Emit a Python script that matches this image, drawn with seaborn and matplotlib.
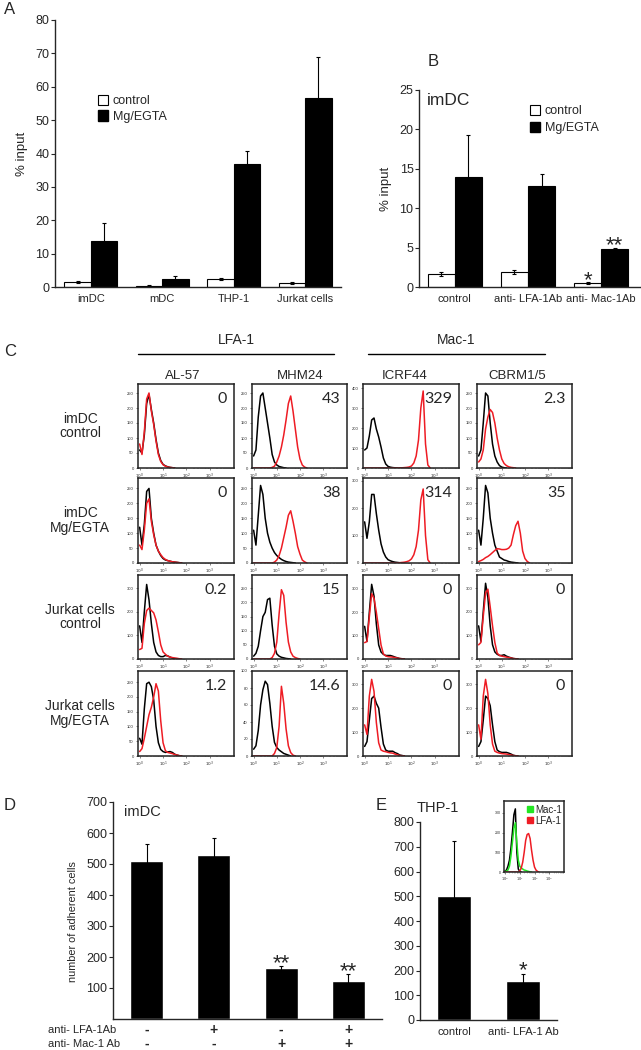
import numpy as np
import pandas as pd
import seaborn as sns
import matplotlib.pyplot as plt
from matplotlib.patches import Patch
from matplotlib.lines import Line2D
from matplotlib.ticker import FixedLocator, LogLocator, NullFormatter
import matplotlib.transforms as mtransforms

sns.set_style("ticks")
plt.rcParams["font.family"] = ["Liberation Sans", "DejaVu Sans"]

# ---------------- data ----------------
# A: adhesion, % input
a_cells = ["imDC", "mDC", "THP-1", "Jurkat cells"]
a_control = [1.5, 0.4, 2.4, 1.2]
a_control_err = [0.25, 0.1, 0.4, 0.2]
a_mg = [13.8, 2.3, 37.0, 56.5]
a_mg_err = [5.4, 0.9, 3.8, 12.4]

# B: imDC with blocking antibodies
b_treat = ["control", "anti- LFA-1Ab", "anti- Mac-1Ab"]
b_control = [1.6, 1.9, 0.5]
b_control_err = [0.25, 0.2, 0.1]
b_mg = [13.9, 12.8, 4.8]
b_mg_err = [5.4, 1.5, 0.1]

# C: flow cytometry histograms (log10 fluorescence grid, cell counts)
grid = [0.0, 0.1, 0.2, 0.3, 0.4, 0.5, 0.6, 0.7, 0.8, 0.9, 1.0, 1.1, 1.2, 1.3, 1.4,
        1.5, 1.6, 1.7, 1.8, 1.9, 2.0, 2.1, 2.2, 2.3, 2.4, 2.5, 2.6, 2.7, 2.8]
antibodies = ["AL-57", "MHM24", "ICRF44", "CBRM1/5"]
conditions = ["imDC\ncontrol", "imDC\nMg/EGTA", "Jurkat cells\ncontrol", "Jurkat cells\nMg/EGTA"]
mfi_imdc_ctl = ["0", "43", "329", "2.3"]
mfi_imdc_mg = ["0", "38", "314", "35"]
mfi_jurkat_ctl = ["0.2", "15", "0", "0"]
mfi_jurkat_mg = ["1.2", "14.6", "0", "0"]

al57_imdc_ctl_k = [60, 50, 110, 215, 245, 195, 150, 95, 50, 25, 12, 7, 4, 2, 1, 0]
al57_imdc_ctl_r = [80, 45, 120, 230, 250, 190, 145, 90, 45, 22, 11, 6, 3, 2, 1, 0]
mhm_imdc_ctl_k = [40, 60, 170, 240, 250, 200, 150, 100, 45, 20, 10, 5, 3, 1, 0]
mhm_imdc_ctl_r = [0, 0, 0, 0, 0, 0, 0, 0, 2, 6, 20, 40, 70, 110, 160, 215, 240, 190,
                  130, 70, 30, 10, 3, 0]
icrf_imdc_ctl_k = [90, 100, 160, 240, 250, 195, 155, 105, 50, 20, 8, 4, 2, 1, 0]
icrf_imdc_ctl_r = [0, 0, 0, 0, 0, 0, 0, 0, 0, 0, 0, 0, 0, 0, 0, 1, 1, 2, 3, 5, 10, 25,
                   60, 140, 300, 385, 120, 15, 0]
cbrm_imdc_ctl_k = [40, 60, 150, 250, 240, 150, 80, 40, 20, 8, 3, 1, 0]
cbrm_imdc_ctl_r = [20, 30, 60, 130, 170, 195, 185, 150, 100, 60, 30, 15, 8, 4, 2, 1, 0]

al57_imdc_mg_k = [120, 60, 130, 240, 250, 150, 100, 60, 40, 25, 15, 10, 8, 6, 4, 3, 2, 1, 0]
al57_imdc_mg_r = [60, 45, 110, 200, 215, 140, 95, 60, 40, 28, 18, 12, 8, 6, 4, 3, 2, 1, 0]
mhm_imdc_mg_k = [110, 60, 160, 260, 230, 150, 100, 70, 50, 35, 25, 18, 12, 8, 5, 3, 2, 1, 0]
mhm_imdc_mg_r = [0, 0, 0, 0, 0, 0, 0, 0, 0, 3, 10, 25, 50, 85, 120, 160, 175, 140, 100,
                 55, 30, 10, 4, 0]
icrf_imdc_mg_k = [150, 90, 150, 250, 250, 180, 120, 70, 40, 22, 12, 8, 5, 3, 2, 1, 1, 0]
icrf_imdc_mg_r = [0, 0, 0, 0, 0, 0, 0, 0, 0, 0, 0, 0, 0, 0, 0, 1, 2, 3, 5, 8, 15, 30,
                  60, 120, 230, 270, 100, 12, 0]
cbrm_imdc_mg_k = [110, 60, 150, 260, 235, 150, 100, 60, 40, 20, 15, 10, 8, 5, 3, 2, 1, 0]
cbrm_imdc_mg_r = [5, 8, 12, 18, 22, 28, 35, 42, 48, 47, 45, 45, 46, 50, 60, 95, 125, 140,
                  100, 40, 15, 5, 0]

al57_jurkat_ctl_k = [140, 70, 200, 315, 250, 150, 70, 30, 15, 10, 10, 15, 13, 8, 4, 2, 1, 0]
al57_jurkat_ctl_r = [40, 45, 150, 205, 215, 205, 195, 165, 115, 60, 30, 20, 12, 8, 6, 4, 3, 1, 0]
mhm_jurkat_ctl_k = [10, 20, 45, 100, 150, 165, 210, 215, 120, 45, 18, 10, 6, 4, 2, 1, 0]
mhm_jurkat_ctl_r = [0, 0, 0, 0, 0, 0, 0, 0, 5, 20, 60, 160, 245, 225, 130, 60, 25, 10, 5, 2, 0]
icrf_jurkat_ctl_k = [140, 75, 200, 320, 270, 150, 60, 30, 20, 15, 15, 15, 12, 8, 5, 2, 1, 0]
icrf_jurkat_ctl_r = [70, 75, 180, 280, 260, 200, 130, 60, 22, 13, 10, 9, 8, 6, 4, 2, 1, 0]
cbrm_jurkat_ctl_k = [140, 75, 200, 320, 260, 140, 60, 30, 20, 15, 15, 18, 12, 8, 5, 2, 1, 0]
cbrm_jurkat_ctl_r = [60, 70, 180, 280, 295, 220, 140, 70, 25, 15, 12, 10, 8, 6, 4, 2, 1, 0]

al57_jurkat_mg_k = [60, 40, 160, 245, 250, 235, 190, 100, 45, 22, 15, 12, 14, 15, 12, 6, 3, 1, 0]
al57_jurkat_mg_r = [15, 25, 60, 100, 140, 165, 200, 245, 220, 120, 45, 18, 12, 10, 8, 5, 3, 1, 0]
mhm_jurkat_mg_k = [8, 12, 30, 60, 78, 88, 84, 62, 35, 16, 10, 7, 5, 3, 2, 1, 0]
mhm_jurkat_mg_r = [0, 0, 0, 0, 0, 0, 0, 0, 0, 3, 10, 35, 82, 62, 32, 12, 4, 1, 0]
icrf_jurkat_mg_k = [40, 60, 150, 240, 250, 220, 200, 120, 50, 25, 20, 20, 20, 14, 10, 4, 2, 0]
icrf_jurkat_mg_r = [130, 90, 250, 320, 270, 140, 55, 25, 20, 18, 15, 13, 12, 8, 5, 2, 1, 0]
cbrm_jurkat_mg_k = [40, 60, 150, 250, 240, 210, 130, 60, 25, 18, 15, 15, 15, 12, 8, 3, 1, 0]
cbrm_jurkat_mg_r = [130, 70, 250, 320, 260, 130, 50, 20, 15, 12, 10, 9, 8, 6, 4, 2, 1, 0]

hist_black = [[al57_imdc_ctl_k, mhm_imdc_ctl_k, icrf_imdc_ctl_k, cbrm_imdc_ctl_k],
              [al57_imdc_mg_k, mhm_imdc_mg_k, icrf_imdc_mg_k, cbrm_imdc_mg_k],
              [al57_jurkat_ctl_k, mhm_jurkat_ctl_k, icrf_jurkat_ctl_k, cbrm_jurkat_ctl_k],
              [al57_jurkat_mg_k, mhm_jurkat_mg_k, icrf_jurkat_mg_k, cbrm_jurkat_mg_k]]
hist_red = [[al57_imdc_ctl_r, mhm_imdc_ctl_r, icrf_imdc_ctl_r, cbrm_imdc_ctl_r],
            [al57_imdc_mg_r, mhm_imdc_mg_r, icrf_imdc_mg_r, cbrm_imdc_mg_r],
            [al57_jurkat_ctl_r, mhm_jurkat_ctl_r, icrf_jurkat_ctl_r, cbrm_jurkat_ctl_r],
            [al57_jurkat_mg_r, mhm_jurkat_mg_r, icrf_jurkat_mg_r, cbrm_jurkat_mg_r]]
mfi = [mfi_imdc_ctl, mfi_imdc_mg, mfi_jurkat_ctl, mfi_jurkat_mg]
hist_ymax = [[280, 280, 420, 280], [285, 285, 310, 285], [355, 297, 360, 355], [288, 100, 355, 355]]
hist_ystep = [[50, 50, 100, 50], [50, 50, 100, 50], [100, 50, 100, 100], [50, 20, 100, 100]]

# D: imDC adhesion with blocking antibodies
d_lfa = ["-", "+", "-", "+"]
d_mac = ["-", "-", "+", "+"]
d_values = [510, 528, 165, 123]
d_err = [55, 56, 7, 22]
d_stars = ["", "", "**", "**"]

# E: THP-1 adhesion
e_groups = ["control", "anti- LFA-1 Ab"]
e_values = [500, 158]
e_err = [225, 27]
e_stars = ["", "*"]
inset_black = [5, 10, 30, 60, 120, 200, 290, 320, 100, 15, 3, 0]
inset_mac1 = [3, 5, 10, 30, 80, 150, 220, 250, 150, 60, 30, 20, 15, 10, 8, 5, 3, 1, 0]
inset_lfa1 = [0, 0, 0, 0, 0, 0, 0, 0, 0, 0, 5, 20, 50, 100, 160, 190, 195, 170, 110, 60,
              25, 10, 3, 0]

# ---------------- figure ----------------
W, H = 641, 1050
fig = plt.figure(figsize=(W / 100, H / 100), dpi=100)
RED = "#ee1c24"


def px_axes(x0, y0, x1, y1):
    return fig.add_axes([x0 / W, 1 - y1 / H, (x1 - x0) / W, (y1 - y0) / H])


def fig_text(x, y, s, **kw):
    fig.text(x / W, 1 - y / H, s, **kw)


def grouped_bars(ax, cats, ctrl, ctrl_err, mg, mg_err, width):
    n = len(cats)
    df = pd.DataFrame({"cat": cats * 2,
                       "cond": ["control"] * n + ["Mg/EGTA"] * n,
                       "val": ctrl + mg})
    sns.barplot(data=df, x="cat", y="val", hue="cond", hue_order=["control", "Mg/EGTA"],
                palette={"control": "white", "Mg/EGTA": "black"}, edgecolor="black",
                linewidth=0.8, width=width, errorbar=None, legend=False, ax=ax)
    centers = []
    for cont, vals, errs in zip(ax.containers, [ctrl, mg], [ctrl_err, mg_err]):
        xs = [p.get_x() + p.get_width() / 2 for p in cont]
        centers.append(xs)
        ax.errorbar(xs, vals, yerr=errs, fmt="none", ecolor="black", elinewidth=0.8,
                    capsize=1.5, capthick=0.8)
    handles = [Patch(facecolor="white", edgecolor="black", linewidth=0.8, label="control"),
               Patch(facecolor="black", edgecolor="black", label="Mg/EGTA")]
    return centers, handles


def style_bar_axes(ax):
    sns.despine(ax=ax)
    ax.set_xlabel("")
    for s in ["left", "bottom"]:
        ax.spines[s].set_linewidth(1.0)
    ax.tick_params(axis="x", length=0, pad=5)
    ax.tick_params(axis="y", length=3, width=0.8, pad=1)


# ---- A ----
fig_text(4, 10, "A", fontsize=12, va="center")
ax = px_axes(55, 20, 341, 287)
_, handles = grouped_bars(ax, a_cells, a_control, a_control_err, a_mg, a_mg_err, 0.74)
ax.set_xlim(-0.5, 3.5)
ax.set_ylim(0, 80)
ax.set_yticks(range(0, 81, 10))
style_bar_axes(ax)
ax.tick_params(axis="y", labelsize=9)
ax.tick_params(axis="x", labelsize=8)
ax.set_ylabel("% input", fontsize=9.5)
ax.yaxis.set_label_coords(-0.094, 0.5)
ax.legend(handles=handles, frameon=False, fontsize=9, loc="upper left",
          bbox_to_anchor=(0.15, 0.72), borderaxespad=0, borderpad=0,
          handlelength=0.8, handleheight=0.9, handletextpad=0.4, labelspacing=0.25)

# ---- B ----
fig_text(428, 62, "B", fontsize=12, va="center")
ax = px_axes(419, 90, 640, 287)
centers, handles = grouped_bars(ax, b_treat, b_control, b_control_err, b_mg, b_mg_err, 0.74)
ax.set_xlim(-0.49, 2.53)
ax.set_ylim(0, 25)
ax.set_yticks(range(0, 26, 5))
style_bar_axes(ax)
ax.tick_params(axis="y", labelsize=9)
ax.tick_params(axis="x", labelsize=8)
ax.set_ylabel("% input", fontsize=9.5)
ax.yaxis.set_label_coords(-0.12, 0.5)
ax.legend(handles=handles, frameon=False, fontsize=9, loc="upper left",
          bbox_to_anchor=(0.5, 0.925), borderaxespad=0, borderpad=0,
          handlelength=0.8, handleheight=0.9, handletextpad=0.4, labelspacing=0.35)
ax.text(0.035, 0.945, "imDC", transform=ax.transAxes, fontsize=12.5, va="center")
ax.text(centers[0][2], 0.8, "*", ha="center", va="center", fontsize=16)
ax.text(centers[1][2], 5.2, "**", ha="center", va="center", fontsize=16)

# ---- C ----
fig_text(4, 352, "C", fontsize=12, va="center")
fig_text(236, 340, "LFA-1", fontsize=10, ha="center", va="center")
fig_text(456, 340, "Mac-1", fontsize=10, ha="center", va="center")
for x0, x1 in [(138, 334), (368, 545)]:
    fig.add_artist(Line2D([x0 / W, x1 / W], [1 - 354 / H] * 2, color="black", lw=1.0))

col_x = [(138, 234), (252, 347), (363, 459), (477, 572)]
row_y = [(384, 468), (478, 563), (575, 659), (671, 756)]
header_x = [183, 300, 405, 517]
for j, name in enumerate(antibodies):
    fig_text(header_x[j], 376, name, fontsize=9.5, ha="center", va="center")

for i, (y0, y1) in enumerate(row_y):
    fig_text(80, (y0 + y1) / 2, conditions[i], fontsize=10, ha="center", va="center",
             multialignment="center", linespacing=1.05)
    for j, (x0, x1) in enumerate(col_x):
        ax = px_axes(x0, y0, x1, y1)
        kvals = hist_black[i][j]
        rvals = hist_red[i][j]
        sns.lineplot(x=10 ** np.array(grid[:len(kvals)]), y=kvals, color="black",
                     lw=1.1, ax=ax)
        sns.lineplot(x=10 ** np.array(grid[:len(rvals)]), y=rvals, color=RED,
                     lw=1.1, ax=ax)
        ax.set_xscale("log")
        ax.set_xlim(10 ** -0.07, 10 ** 4.03)
        ax.set_ylim(0, hist_ymax[i][j])
        ax.xaxis.set_major_locator(FixedLocator([1, 10, 100, 1000]))
        ax.set_xticklabels(["$10^0$", "$10^1$", "$10^2$", "$10^3$"])
        ax.xaxis.set_minor_locator(LogLocator(subs=np.arange(2, 10)))
        ax.xaxis.set_minor_formatter(NullFormatter())
        ax.set_yticks(np.arange(0, hist_ymax[i][j] + 1, hist_ystep[i][j]))
        ax.tick_params(labelsize=3, length=1.5, width=0.4, pad=1.5)
        ax.tick_params(which="minor", length=0.8, width=0.3)
        for s in ax.spines.values():
            s.set_linewidth(1.1)
            s.set_color("#222222")
        ax.text(0.93, 0.91, mfi[i][j], transform=ax.transAxes, ha="right", va="top",
                fontsize=11.5, family=["Lato", "DejaVu Sans"])

# ---- D ----
fig_text(4, 805, "D", fontsize=12, va="center")
ax = px_axes(113, 802, 382, 1019)
d_keys = [l + m for l, m in zip(d_lfa, d_mac)]
sns.barplot(x=d_keys, y=d_values, color="black", width=0.49, errorbar=None, ax=ax)
d_x = [p.get_x() + p.get_width() / 2 for p in ax.patches]
ax.errorbar(d_x, d_values, yerr=d_err, fmt="none", ecolor="black", elinewidth=0.8,
            capsize=1.5, capthick=0.8)
ax.set_xlim(-0.5, 3.5)
ax.set_ylim(0, 700)
ax.set_yticks(range(100, 701, 100))
style_bar_axes(ax)
ax.tick_params(axis="y", labelsize=9)
ax.set_xticklabels([])
ax.set_ylabel("number of adherent cells", fontsize=7.8)
ax.yaxis.set_label_coords(-0.13, 0.45)
ax.text(0.04, 0.955, "imDC", transform=ax.transAxes, fontsize=10.5, va="center")
for x, v, e, st in zip(d_x, d_values, d_err, d_stars):
    if st:
        ax.text(x, v + e + 8, st, ha="center", va="center", fontsize=16)
blend = mtransforms.blended_transform_factory(ax.transData, ax.transAxes)
for x, lf, mc in zip(d_x, d_lfa, d_mac):
    ax.text(x, -0.05, lf, transform=blend, ha="center", va="center", fontsize=10,
            fontweight="bold")
    ax.text(x, -0.115, mc, transform=blend, ha="center", va="center", fontsize=10,
            fontweight="bold")
fig_text(48, 1030, "anti- LFA-1Ab", fontsize=8, va="center")
fig_text(48, 1044, "anti- Mac-1 Ab", fontsize=8, va="center")

# ---- E ----
fig_text(376, 805, "E", fontsize=12, va="center")
fig_text(417, 808, "THP-1", fontsize=10.5, va="center")
ax = px_axes(420, 822, 557, 1020)
sns.barplot(x=e_groups, y=e_values, color="black", width=0.49, errorbar=None, ax=ax)
e_x = [p.get_x() + p.get_width() / 2 for p in ax.patches]
ax.errorbar(e_x, e_values, yerr=e_err, fmt="none", ecolor="black", elinewidth=0.8,
            capsize=1.5, capthick=0.8)
ax.set_xlim(-0.49, 1.49)
ax.set_ylim(0, 800)
ax.set_yticks(range(0, 801, 100))
style_bar_axes(ax)
ax.tick_params(axis="y", labelsize=9)
ax.tick_params(axis="x", labelsize=8)
for x, v, e, st in zip(e_x, e_values, e_err, e_stars):
    if st:
        ax.text(x, v + e + 15, st, ha="center", va="center", fontsize=16)

ax = px_axes(504, 801, 564, 872)
sns.lineplot(x=10 ** np.array(grid[:len(inset_black)]), y=inset_black, color="black", lw=1.1, ax=ax)
sns.lineplot(x=10 ** np.array(grid[:len(inset_mac1)]), y=inset_mac1, color="#22e622", lw=1.1, ax=ax)
sns.lineplot(x=10 ** np.array(grid[:len(inset_lfa1)]), y=inset_lfa1, color=RED, lw=1.1, ax=ax)
ax.set_xscale("log")
ax.set_xlim(10 ** -0.07, 10 ** 4.0)
ax.set_ylim(0, 360)
ax.xaxis.set_major_locator(FixedLocator([1, 10, 100, 1000]))
ax.set_xticklabels(["$10^0$", "$10^1$", "$10^2$", "$10^3$"])
ax.xaxis.set_minor_locator(LogLocator(subs=np.arange(2, 10)))
ax.xaxis.set_minor_formatter(NullFormatter())
ax.set_yticks([0, 100, 200, 300])
ax.tick_params(labelsize=2.5, length=1.2, width=0.4, pad=1)
ax.tick_params(which="minor", length=0.6, width=0.3)
for s in ax.spines.values():
    s.set_linewidth(1.1)
inset_handles = [Line2D([], [], marker="s", color="#22e622", ls="none", markersize=4, label="Mac-1"),
                 Line2D([], [], marker="s", color=RED, ls="none", markersize=4, label="LFA-1")]
ax.legend(handles=inset_handles, frameon=False, fontsize=7, loc="upper right",
          bbox_to_anchor=(0.97, 0.95), borderaxespad=0, borderpad=0, handlelength=0.5,
          handletextpad=0.25, labelspacing=0.1)

fig.savefig("out.png", dpi=100)
